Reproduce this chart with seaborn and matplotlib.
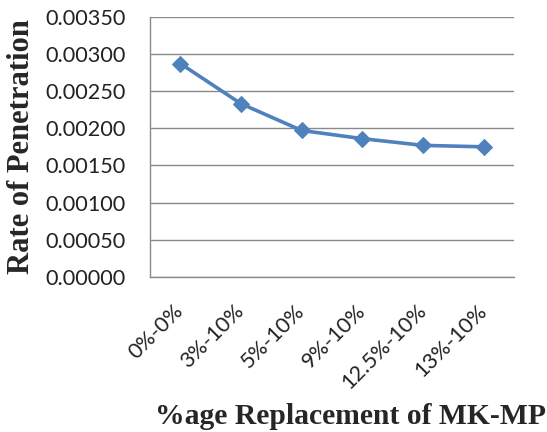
import matplotlib

matplotlib.use("Agg", force=True)
import matplotlib.pyplot as plt
import matplotlib.transforms as mtransforms
import pandas as pd
import seaborn as sns

categories = ["0%-0%", "3%-10%", "5%-10%", "9%-10%", "12.5%-10%", "13%-10%"]
penetration = [0.00287, 0.00233, 0.00197, 0.00186, 0.00177, 0.00175]
y_ticks = [0.0, 0.0005, 0.0010, 0.0015, 0.0020, 0.0025, 0.0030, 0.0035]

df = pd.DataFrame({"mix": categories, "rate": penetration})

sns.set_style("white")
plt.rcParams["font.family"] = ["Lato", "DejaVu Sans"]

fig = plt.figure(figsize=(5.47, 4.32), dpi=100)
ax = fig.add_axes([0.2742, 0.3588, 0.6654, 0.6026])

sns.lineplot(
    data=df, x="mix", y="rate", sort=False, ax=ax,
    color="#4F81BD", linewidth=2.6, marker="D", markersize=8.5,
    markeredgecolor="#4F81BD",
)

grid_c = "#8a8a8a"
ax.set_xlim(-0.5, len(categories) - 0.5)
ax.set_ylim(0, 0.0035)
ax.set_yticks(y_ticks)
ax.set_yticklabels([f"{v:.5f}" for v in y_ticks], fontsize=15.6, color="#222222")
ax.yaxis.grid(True, color=grid_c, linewidth=1)
ax.set_axisbelow(True)

ax.set_xticks(range(len(categories)))
ax.set_xticklabels(categories, rotation=45, ha="right", va="center",
                   rotation_mode="anchor", fontsize=15.6, color="#222222")
offset = mtransforms.ScaledTranslation(8 / 100, 0, fig.dpi_scale_trans)
for lab in ax.get_xticklabels():
    lab.set_transform(lab.get_transform() + offset)
ax.tick_params(axis="x", which="major", length=0, pad=22)
ax.set_xticks([i - 0.5 for i in range(len(categories) + 1)], minor=True)
ax.tick_params(axis="x", which="minor", direction="out", length=6.7, width=1, color=grid_c)
ax.tick_params(axis="y", which="major", direction="out", length=6.7, width=1, color=grid_c, pad=10.5)

for side in ["top", "right"]:
    ax.spines[side].set_visible(False)
for side in ["left", "bottom"]:
    ax.spines[side].set_color(grid_c)
    ax.spines[side].set_linewidth(1)

ax.set_xlabel("")
ax.set_ylabel("")
fig.text(0.040, 0.661, "Rate of Penetration", rotation=90, ha="center", va="center",
         fontsize=22, fontweight="bold", family="Liberation Serif")
fig.text(0.641, 0.037, "%age Replacement of MK-MP", ha="center", va="center",
         fontsize=21.3, fontweight="bold", family="Liberation Serif")

fig.savefig("out.png", dpi=100)
plt.close(fig)
